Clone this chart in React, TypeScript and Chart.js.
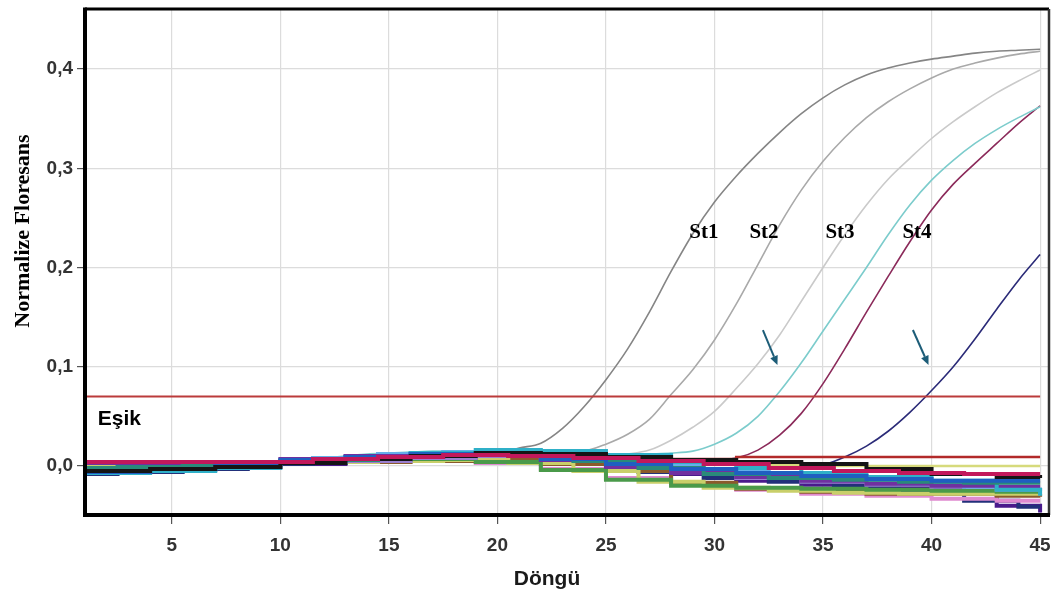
import React, { useEffect, useRef } from "react";
import { Chart, registerables } from "chart.js";

Chart.register(...registerables);

// ---------- data ----------
const cycles = [1,2,3,4,5,6,7,8,9,10,11,12,13,14,15,16,17,18,19,20,21,22,23,24,25,26,27,28,29,30,31,32,33,34,35,36,37,38,39,40,41,42,43,44,45];

const st1 = [-0.004,-0.003,-0.002,-0.001,0.000,0.001,0.002,0.003,0.003,0.004,0.005,0.006,0.007,0.008,0.008,0.009,0.010,0.011,0.011,0.012,0.018,0.023,0.038,0.060,0.087,0.118,0.155,0.196,0.234,0.266,0.292,0.315,0.336,0.355,0.371,0.384,0.394,0.401,0.406,0.410,0.413,0.416,0.418,0.419,0.420];
const st2 = [-0.006,-0.005,-0.004,-0.002,-0.001,0.000,0.001,0.002,0.003,0.004,0.005,0.006,0.007,0.008,0.009,0.010,0.010,0.011,0.012,0.012,0.013,0.013,0.014,0.015,0.022,0.032,0.047,0.072,0.097,0.127,0.163,0.203,0.243,0.278,0.307,0.331,0.351,0.367,0.380,0.391,0.400,0.406,0.411,0.415,0.418];
const st3 = [-0.002,-0.002,-0.001,0.000,0.001,0.002,0.003,0.003,0.004,0.005,0.006,0.007,0.008,0.009,0.010,0.011,0.011,0.012,0.012,0.011,0.011,0.010,0.010,0.010,0.010,0.012,0.016,0.026,0.039,0.055,0.078,0.103,0.132,0.166,0.200,0.233,0.263,0.289,0.310,0.330,0.347,0.362,0.376,0.388,0.399];
const cyanSample = [-0.008,-0.007,-0.006,-0.004,-0.002,0.000,0.001,0.002,0.003,0.004,0.006,0.008,0.010,0.012,0.013,0.014,0.015,0.015,0.015,0.014,0.013,0.012,0.011,0.011,0.011,0.011,0.012,0.013,0.015,0.022,0.033,0.050,0.075,0.104,0.136,0.168,0.200,0.233,0.263,0.288,0.308,0.325,0.339,0.351,0.362];
const st4 = [0.002,0.002,0.002,0.003,0.003,0.003,0.003,0.004,0.004,0.005,0.005,0.006,0.007,0.008,0.008,0.009,0.009,0.010,0.010,0.010,0.009,0.009,0.008,0.008,0.008,0.007,0.007,0.007,0.007,0.006,0.008,0.016,0.031,0.053,0.083,0.118,0.155,0.191,0.226,0.258,0.284,0.305,0.325,0.345,0.363];
const navySample = [-0.003,-0.003,-0.002,-0.002,-0.001,0.000,0.001,0.002,0.003,0.004,0.005,0.006,0.007,0.008,0.009,0.010,0.010,0.011,0.011,0.011,0.010,0.010,0.009,0.008,0.007,0.006,0.005,0.004,0.003,0.002,0.001,0.000,-0.001,-0.001,0.001,0.009,0.020,0.035,0.054,0.076,0.100,0.128,0.158,0.187,0.213];

const baseCycles = [1,4,7,10,13,16,19,22,25,28,31,34,37,40,43,45];
const magentaWell = [0.004,0.004,0.004,0.004,0.007,0.009,0.011,0.010,0.008,0.005,0.002,-0.002,-0.005,-0.007,-0.008,-0.008];
const blackWell = [-0.005,-0.003,-0.001,0.003,0.007,0.010,0.013,0.012,0.009,0.006,0.004,0.002,-0.003,-0.008,-0.011,-0.012];
const blueWell = [-0.008,-0.006,-0.003,0.002,0.006,0.009,0.012,0.011,0.007,0.002,-0.003,-0.007,-0.010,-0.013,-0.015,-0.015];
const tealWell = [-0.002,-0.001,0.001,0.003,0.006,0.009,0.011,0.010,0.005,-0.002,-0.008,-0.012,-0.014,-0.016,-0.017,-0.017];
const cyanWell = [-0.007,-0.005,-0.002,0.003,0.009,0.013,0.016,0.015,0.011,0.004,-0.002,-0.007,-0.011,-0.015,-0.024,-0.030];
const purpleWell = [0.002,0.003,0.003,0.004,0.007,0.010,0.012,0.011,0.006,-0.001,-0.007,-0.011,-0.015,-0.018,-0.020,-0.021];
const skyWell = [-0.006,-0.004,-0.002,0.003,0.008,0.012,0.014,0.013,0.008,0.001,-0.005,-0.010,-0.014,-0.018,-0.021,-0.022];
const lavenderWell = [-0.003,-0.002,0.000,0.003,0.005,0.008,0.010,0.008,0.002,-0.006,-0.012,-0.016,-0.019,-0.021,-0.024,-0.025];
const greenWell = [-0.004,-0.002,0.000,0.003,0.005,0.006,0.007,0.004,-0.004,-0.014,-0.020,-0.022,-0.023,-0.024,-0.025,-0.026];
const oliveWell = [0.000,0.001,0.002,0.003,0.004,0.005,0.006,0.003,-0.005,-0.016,-0.022,-0.025,-0.027,-0.028,-0.028,-0.028];
const brownWell = [-0.001,0.000,0.001,0.003,0.004,0.005,0.006,0.002,-0.005,-0.017,-0.023,-0.026,-0.028,-0.028,-0.030,-0.031];
const pinkWell = [0.001,0.002,0.002,0.003,0.004,0.005,0.006,0.003,-0.003,-0.012,-0.019,-0.024,-0.028,-0.030,-0.033,-0.035];
const navyWell = [-0.008,-0.006,-0.003,0.002,0.006,0.009,0.011,0.009,0.003,-0.006,-0.012,-0.016,-0.020,-0.024,-0.035,-0.041];
const violetWell = [-0.005,-0.004,-0.001,0.002,0.005,0.008,0.010,0.008,0.002,-0.008,-0.015,-0.019,-0.022,-0.026,-0.040,-0.047];
const redWell = [0.003,0.003,0.003,0.003,0.006,0.008,0.010,0.010,0.009,0.008,0.007,0.009,0.009,0.009,0.009,0.009];
const yellowWell = [-0.001,0.000,0.001,0.003,0.005,0.007,0.009,0.009,0.007,0.005,0.003,0.001,0.000,0.000,0.000,0.000];

const threshold = 0.07;
const thresholdSpan = [1, 45];
const xTicks = [5, 10, 15, 20, 25, 30, 35, 40, 45];
const yTicks = [0, 0.1, 0.2, 0.3, 0.4];

const stdLabels = ["St1", "St2", "St3", "St4"];
const stdLabelX = [29.51, 32.28, 35.78, 39.33];
const stdLabelY = 0.2293;
const arrows = [
  { x1: 32.23, y1: 0.137, x2: 32.9, y2: 0.1018 },
  { x1: 39.14, y1: 0.137, x2: 39.86, y2: 0.1018 },
];

// ---------- helpers ----------
const pts = (xs: number[], ys: number[]) => xs.map((x, i) => ({ x, y: ys[i] }));

const wells: [number[], string, number][] = [
  [magentaWell, "#c2185b", 4],
  [blackWell, "#151515", 4],
  [blueWell, "#1f5fc0", 4],
  [tealWell, "#2a8a7a", 4],
  [cyanWell, "#2fb0c8", 4],
  [purpleWell, "#7030a0", 4],
  [skyWell, "#64aee8", 4],
  [lavenderWell, "#9a7fd0", 4],
  [greenWell, "#4a9a4a", 4],
  [oliveWell, "#c9cf6a", 4],
  [brownWell, "#8b5a2b", 4],
  [pinkWell, "#e08ad0", 4],
  [navyWell, "#22307a", 4],
  [violetWell, "#4a1a8c", 4],
  [redWell, "#b22a2a", 2.5],
  [yellowWell, "#d6da7c", 2.5],
];

const amps: [number[], string][] = [
  [st1, "#858585"],
  [st2, "#a9a9a9"],
  [st3, "#cacaca"],
  [cyanSample, "#7ccccc"],
  [st4, "#8b2a5a"],
  [navySample, "#2b2b78"],
];

const stepModes = ["middle", "before", "after"];

const annotate = {
  id: "annotate",
  afterDatasetsDraw(chart: any) {
    const { ctx, chartArea: a, scales } = chart;
    const x = scales.x;
    const y = scales.y;
    ctx.save();
    // frame
    ctx.lineCap = "butt";
    ctx.strokeStyle = "#000";
    ctx.lineWidth = 3;
    ctx.beginPath();
    ctx.moveTo(a.left, a.top);
    ctx.lineTo(a.right, a.top);
    ctx.stroke();
    ctx.strokeStyle = "#333";
    ctx.lineWidth = 2.5;
    ctx.beginPath();
    ctx.moveTo(a.right, a.top);
    ctx.lineTo(a.right, a.bottom);
    ctx.stroke();
    ctx.strokeStyle = "#000";
    ctx.lineWidth = 4;
    ctx.beginPath();
    ctx.moveTo(a.left, a.top - 1.5);
    ctx.lineTo(a.left, a.bottom);
    ctx.lineTo(a.right + 1, a.bottom);
    ctx.stroke();

    // standard labels
    ctx.fillStyle = "#000";
    ctx.font = 'bold 21px "Liberation Serif"';
    ctx.textAlign = "center";
    ctx.textBaseline = "alphabetic";
    stdLabels.forEach((t, i) => {
      ctx.fillText(t, x.getPixelForValue(stdLabelX[i]), y.getPixelForValue(stdLabelY));
    });

    // threshold label
    ctx.font = 'bold 21px "Liberation Sans"';
    ctx.textAlign = "left";
    ctx.fillText("Eşik", x.getPixelForValue(1.59), y.getPixelForValue(0.0414));

    // arrows
    ctx.strokeStyle = "#1d5d78";
    ctx.fillStyle = "#1d5d78";
    ctx.lineWidth = 2;
    arrows.forEach((ar) => {
      const sx = x.getPixelForValue(ar.x1);
      const sy = y.getPixelForValue(ar.y1);
      const ex = x.getPixelForValue(ar.x2);
      const ey = y.getPixelForValue(ar.y2);
      const ang = Math.atan2(ey - sy, ex - sx);
      const L = 9;
      const W = 4;
      const bx = ex - L * Math.cos(ang);
      const by = ey - L * Math.sin(ang);
      ctx.beginPath();
      ctx.moveTo(sx, sy);
      ctx.lineTo(bx, by);
      ctx.stroke();
      ctx.beginPath();
      ctx.moveTo(ex, ey);
      ctx.lineTo(bx + W * Math.sin(ang), by - W * Math.cos(ang));
      ctx.lineTo(bx - W * Math.sin(ang), by + W * Math.cos(ang));
      ctx.closePath();
      ctx.fill();
    });

    // axis titles
    ctx.fillStyle = "#1a1a1a";
    ctx.font = 'bold 21px "Liberation Sans"';
    ctx.textAlign = "center";
    ctx.textBaseline = "alphabetic";
    ctx.fillText("Döngü", 547, 585);

    ctx.save();
    ctx.translate(23, 231);
    ctx.rotate(-Math.PI / 2);
    ctx.fillStyle = "#000";
    ctx.font = 'bold 22px "Liberation Serif"';
    ctx.textBaseline = "middle";
    ctx.fillText("Normalize Floresans", 0, 0);
    ctx.restore();

    ctx.restore();
  },
};

export default function App() {
  const ref = useRef<HTMLCanvasElement | null>(null);

  useEffect(() => {
    if (!ref.current) return;
    const datasets: any[] = [];
    wells.forEach(([vals, color, w], i) => {
      datasets.push({
        data: pts(baseCycles, vals),
        borderColor: color,
        borderWidth: w,
        stepped: stepModes[i % 3],
        pointRadius: 0,
        fill: false,
      });
    });
    datasets.push({
      data: pts(thresholdSpan, [threshold, threshold]),
      borderColor: "#bb3b3b",
      borderWidth: 2,
      pointRadius: 0,
      fill: false,
    });
    amps.forEach(([vals, color]) => {
      datasets.push({
        data: pts(cycles, vals),
        borderColor: color,
        borderWidth: 1.6,
        cubicInterpolationMode: "monotone",
        pointRadius: 0,
        fill: false,
      });
    });

    const tickFont = { family: "Liberation Sans", size: 19, weight: "bold" as const };

    const chart = new Chart(ref.current, {
      type: "line",
      data: { datasets },
      plugins: [annotate],
      options: {
        animation: false,
        responsive: false,
        layout: { padding: { top: 9, right: 8, left: 0, bottom: 0 } },
        plugins: { legend: { display: false }, tooltip: { enabled: false } },
        scales: {
          x: {
            type: "linear",
            min: 1,
            max: 45.41,
            afterBuildTicks: (s: any) => {
              s.ticks = xTicks.map((v) => ({ value: v }));
            },
            afterFit: (s: any) => {
              s.height = 80;
              s.paddingLeft = 0;
              s.paddingRight = 0;
            },
            grid: { color: "#dcdcdc", lineWidth: 1.2, tickColor: "#555", tickLength: 9 },
            border: { display: false },
            ticks: { font: tickFont, color: "#333", padding: 10, maxRotation: 0, autoSkip: false },
          },
          y: {
            type: "linear",
            min: -0.0494,
            max: 0.4605,
            afterBuildTicks: (s: any) => {
              s.ticks = yTicks.map((v) => ({ value: v }));
            },
            afterFit: (s: any) => {
              s.width = 85;
              s.paddingTop = 0;
              s.paddingBottom = 0;
            },
            grid: { color: "#dcdcdc", lineWidth: 1.2, tickColor: "#555", tickLength: 8 },
            border: { display: false },
            ticks: {
              font: tickFont,
              color: "#333",
              padding: 4,
              callback: (v: any) => Number(v).toFixed(1).replace(".", ","),
            },
          },
        },
      },
    });
    return () => chart.destroy();
  }, []);

  return (
    <canvas
      ref={ref}
      width={1057}
      height={595}
      style={{ position: "fixed", left: 0, top: 0, display: "block", background: "#fff" }}
    />
  );
}
